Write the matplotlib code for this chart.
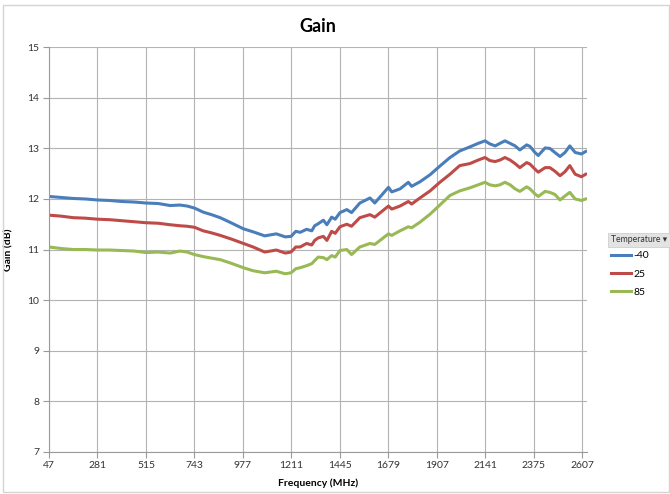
import matplotlib
matplotlib.use("Agg")
import matplotlib.pyplot as plt
from matplotlib.patches import Rectangle
from matplotlib.lines import Line2D

# frequency points (MHz)
freq = [47, 106, 164, 223, 281, 340, 398, 457, 515, 574, 632, 679, 714, 749,
        791, 831, 873, 925, 985, 1032, 1088, 1144, 1187, 1215, 1238, 1259,
        1290, 1315, 1329, 1346, 1371, 1388, 1411, 1428, 1451, 1484, 1507,
        1547, 1596, 1619, 1685, 1701, 1741, 1781, 1797, 1837, 1886, 1933,
        1982, 2029, 2078, 2118, 2151, 2174, 2200, 2223, 2247, 2272, 2296,
        2319, 2352, 2368, 2392, 2408, 2441, 2464, 2488, 2513, 2537, 2560,
        2586, 2616, 2637]

gain_m40 = [12.05, 12.03, 12.01, 12.00, 11.98, 11.97, 11.95, 11.94, 11.92, 11.91,
            11.87, 11.88, 11.86, 11.82, 11.74, 11.69, 11.63, 11.53, 11.41, 11.35,
            11.27, 11.31, 11.25, 11.26, 11.36, 11.34, 11.40, 11.37, 11.47, 11.51,
            11.58, 11.49, 11.64, 11.60, 11.73, 11.79, 11.73, 11.92, 12.02, 11.92,
            12.23, 12.14, 12.20, 12.33, 12.25, 12.34, 12.48, 12.65, 12.82, 12.95,
            13.03, 13.10, 13.15, 13.09, 13.05, 13.10, 13.15, 13.10, 13.05, 12.97,
            13.07, 13.04, 12.92, 12.86, 13.01, 13.00, 12.92, 12.84, 12.92, 13.05,
            12.92, 12.89, 12.94]

gain_25 = [11.68, 11.66, 11.63, 11.62, 11.60, 11.59, 11.57, 11.55, 11.53, 11.52,
           11.49, 11.47, 11.46, 11.44, 11.37, 11.33, 11.28, 11.21, 11.12, 11.05,
           10.95, 10.99, 10.93, 10.95, 11.05, 11.05, 11.12, 11.09, 11.18, 11.23,
           11.26, 11.18, 11.36, 11.32, 11.45, 11.50, 11.46, 11.63, 11.69, 11.64,
           11.86, 11.80, 11.86, 11.95, 11.90, 12.02, 12.16, 12.33, 12.49, 12.66,
           12.70, 12.77, 12.82, 12.76, 12.74, 12.77, 12.82, 12.77, 12.70, 12.62,
           12.72, 12.69, 12.59, 12.53, 12.62, 12.62, 12.55, 12.46, 12.54, 12.66,
           12.49, 12.44, 12.49]

gain_85 = [11.05, 11.02, 11.00, 11.00, 10.99, 10.99, 10.98, 10.97, 10.94, 10.95,
           10.93, 10.97, 10.95, 10.90, 10.86, 10.83, 10.80, 10.73, 10.64, 10.58,
           10.54, 10.57, 10.52, 10.54, 10.62, 10.64, 10.68, 10.72, 10.78, 10.85,
           10.84, 10.80, 10.88, 10.85, 10.98, 11.00, 10.90, 11.05, 11.12, 11.10,
           11.31, 11.28, 11.37, 11.45, 11.43, 11.54, 11.70, 11.88, 12.07, 12.16,
           12.22, 12.28, 12.33, 12.28, 12.26, 12.28, 12.33, 12.28, 12.20, 12.15,
           12.24, 12.20, 12.10, 12.05, 12.15, 12.13, 12.09, 11.98, 12.06, 12.13,
           12.00, 11.97, 12.00]

temps = ["-40", "25", "85"]
colors = ["#4a7ebb", "#be4b48", "#98b954"]
tick_labels = ["47", "281", "515", "743", "977", "1211", "1445", "1679",
               "1907", "2141", "2375", "2607"]
y_ticks = [7, 8, 9, 10, 11, 12, 13, 14, 15]

plt.rcParams["font.family"] = ["Lato", "DejaVu Sans"]

fig = plt.figure(figsize=(6.7, 4.94), dpi=100)
ax = fig.add_axes([0.0731, 0.0856, 0.803, 0.8186])

for vals, c in zip([gain_m40, gain_25, gain_85], colors):
    ax.plot(freq, vals, color=c, lw=2.2, solid_joinstyle="round")

# category axis: labels evenly spaced
tick_pos = [47 + 234 * i for i in range(len(tick_labels))]
ax.set_xticks(tick_pos)
ax.set_xticklabels(tick_labels)
ax.set_xlim(47, 2643)
ax.set_yticks(y_ticks)
ax.set_ylim(7, 15)

ax.grid(True, color="#b3b3b3", lw=0.8)
ax.set_axisbelow(True)
for s in ["top", "right"]:
    ax.spines[s].set_visible(False)
for s in ["left", "bottom"]:
    ax.spines[s].set_color("#9a9a9a")
    ax.spines[s].set_linewidth(0.8)
ax.tick_params(length=4, width=0.8, color="#9a9a9a", labelsize=7.5,
               labelcolor="#333333", pad=3)

ax.set_title("Gain", fontsize=13, fontweight="bold", pad=11)
ax.set_xlabel("Frequency (MHz)", fontsize=7.5, fontweight="bold", labelpad=6)
ax.set_ylabel("Gain (dB)", fontsize=7.5, fontweight="bold", labelpad=10)

# legend with field header
fig.text(0.912, 0.515, "Temperature \u25be", fontsize=6.2, color="#333333",
         family=["Lato", "DejaVu Sans"], va="center",
         bbox=dict(boxstyle="square,pad=0.3", fc="#e3e3e3", ec="#cfcfcf", lw=0.6))
handles = [Line2D([0], [0], color=c, lw=2.2) for c in colors]
fig.legend(handles, temps, loc="upper left", bbox_to_anchor=(0.905, 0.5),
           frameon=False, fontsize=7.5, handlelength=2.0, handletextpad=0.2,
           labelspacing=0.85, borderaxespad=0)

# chart border
fig.patches.append(Rectangle((0.004, 0.005), 0.994, 0.985, transform=fig.transFigure,
                             fill=False, ec="#d4d4d4", lw=1))

fig.savefig("out.png", dpi=100)
